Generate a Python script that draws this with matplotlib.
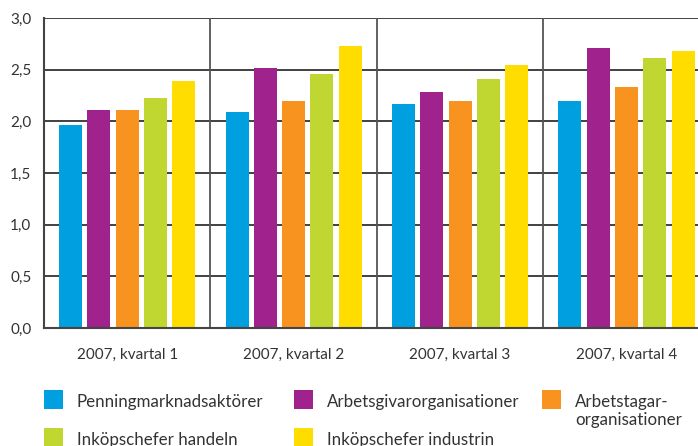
import numpy as np
import matplotlib.pyplot as plt
from matplotlib.patches import Rectangle
from matplotlib.ticker import FuncFormatter

plt.rcParams['font.family'] = ['Lato', 'DejaVu Sans']

quarters = ["2007, kvartal 1", "2007, kvartal 2", "2007, kvartal 3", "2007, kvartal 4"]
series_names = ["Penningmarknadsaktörer", "Arbetsgivarorganisationer",
                "Arbetstagar-\norganisationer", "Inköpschefer handeln",
                "Inköpschefer industrin"]
penning = [1.96, 2.09, 2.17, 2.20]
arbetsgivar = [2.11, 2.52, 2.28, 2.71]
arbetstagar = [2.11, 2.20, 2.20, 2.33]
handeln = [2.23, 2.46, 2.41, 2.61]
industrin = [2.39, 2.73, 2.55, 2.68]
colors = ["#009FDF", "#A0228C", "#F7931E", "#BFD730", "#FFDD00"]

values = [penning, arbetsgivar, arbetstagar, handeln, industrin]

W, H = 698, 446
fig = plt.figure(figsize=(W / 100, H / 100), dpi=100)
ax = fig.add_axes([44 / W, 118 / H, 654 / W, 310 / H])

x = np.arange(len(quarters))
step = 0.17
width = 0.138
for i, (vals, col, name) in enumerate(zip(values, colors, series_names)):
    ax.bar(x + (i - 2) * step, vals, width=width, color=col, label=name, zorder=3)

ax.set_ylim(0, 3.0)
ax.set_xlim(-0.5, 3.43)
ax.set_yticks(np.arange(0, 3.01, 0.5))
ax.yaxis.set_major_formatter(FuncFormatter(lambda v, p: f"{v:.1f}".replace(".", ",")))
ax.set_xticks(x)
ax.set_xticklabels(quarters)

# horizontal grid and group dividers
for yv in np.arange(0.5, 3.01, 0.5):
    ax.axhline(yv, color="#333333", lw=1.3, zorder=1)
for xv in [0.5, 1.5, 2.5]:
    ax.axvline(xv, color="#555555", lw=1.3, zorder=1)

for s in ["top", "right"]:
    ax.spines[s].set_visible(False)
for s in ["left", "bottom"]:
    ax.spines[s].set_color("#444444")
    ax.spines[s].set_linewidth(1.5)
    ax.spines[s].set_zorder(4)

ax.tick_params(axis="both", length=0, labelsize=11, labelcolor="#333333")
ax.tick_params(axis="y", pad=9)
ax.tick_params(axis="x", pad=14)

# legend drawn by hand, row-wise as in the original (pixel positions)
col_x = [44, 294, 542]
row_top = [390, 428]
for i, (name, col) in enumerate(zip(series_names, colors)):
    r, c = (0, i) if i < 3 else (1, i - 3)
    lx, ty = col_x[c], row_top[r]
    fig.add_artist(Rectangle((lx / W, 1 - (ty + 19) / H), 19 / W, 19 / H,
                             transform=fig.transFigure, color=col, lw=0))
    lines = name.split("\n")
    for k, line in enumerate(lines):
        fig.text((lx + 33) / W, 1 - (ty + 17 + 18 * k) / H, line,
                 fontsize=12.2, color="#333333", va="baseline", ha="left")

fig.savefig("out.png", dpi=100)
